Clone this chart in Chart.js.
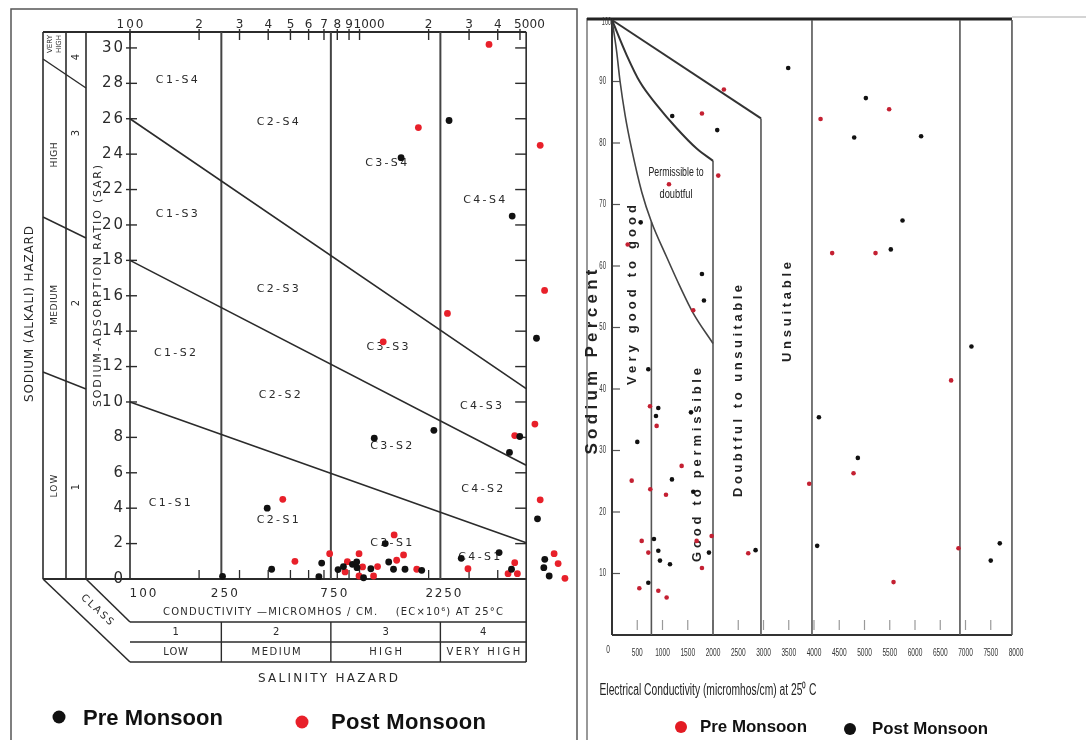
<!DOCTYPE html>
<html>
<head>
<meta charset="utf-8">
<script src="https://cdn.jsdelivr.net/npm/chart.js@4.4.1/dist/chart.umd.min.js"></script>
<style>
  html, body { margin: 0; padding: 0; background: #fff; }
  #wrap { position: relative; width: 1086px; height: 740px; overflow: hidden; }
  #ussl { position: absolute; left: 0; top: 0; }
  #wilcox { position: absolute; left: 580px; top: 0; }
</style>
</head>
<body>
<div id="wrap">
  <canvas id="ussl" width="580" height="740"></canvas>
  <canvas id="wilcox" width="506" height="740"></canvas>
</div>
<script>
// ---------- USSL diagram (left) ----------
const usslPreEC  = [2455, 1517, 4624, 5900, 4989, 2108, 1159, 4500, 5960, 396, 414, 253, 684, 665, 806, 851, 931, 972, 975, 1041, 1120, 1294, 1340, 1406, 1578, 1866, 2774, 4055, 4592, 6412, 6350, 6701];
const usslPreSAR = [25.9, 23.8, 20.5, 13.6, 8.05, 8.4, 7.95, 7.15, 3.4, 4.0, 0.55, 0.15, 0.9, 0.13, 0.53, 0.7, 0.83, 0.96, 0.64, 0.07, 0.58, 2.0, 0.96, 0.55, 0.55, 0.49, 1.17, 1.49, 0.55, 1.11, 0.64, 0.17];
const usslPostEC  = [3665, 1804, 6124, 6400, 2415, 1268, 5807, 4743, 6124, 463, 523, 741, 885, 865, 995, 1031, 995, 1151, 1198, 1415, 1555, 1451, 1775, 2967, 4743, 4436, 4871, 7041, 7331, 7850];
const usslPostSAR = [30.2, 25.5, 24.5, 16.3, 15.0, 13.4, 8.75, 8.1, 4.47, 4.5, 1.0, 1.43, 0.98, 0.4, 1.43, 0.68, 0.17, 0.17, 0.7, 2.49, 1.36, 1.06, 0.55, 0.58, 0.92, 0.3, 0.3, 1.43, 0.87, 0.04];

const salinityBounds = [250, 750, 2250];
const usslRightEC = 5320;   // right edge of the printed diagram
const sodiumLineEC = [100, 5320];
const s4LineSAR = [26, 10.75];
const s3LineSAR = [18, 6.43];
const s2LineSAR = [10, 2.05];

const usslTopTicks  = [100, 200, 300, 400, 500, 600, 700, 800, 900, 1000, 2000, 3000, 4000, 5000];
const usslTopLabels = ['100', '2', '3', '4', '5', '6', '7', '8', '9', '1000', '2', '3', '4', '5000'];
const usslMinorTicks = [200, 300, 400, 500, 600, 700, 800, 900, 1000, 2000, 3000, 4000];
const usslBottomLabels = [100, 250, 750, 2250];
const sarTicks = [0, 2, 4, 6, 8, 10, 12, 14, 16, 18, 20, 22, 24, 26, 28, 30];
const salinityClasses = ['1', '2', '3', '4'];
const salinityNames = ['LOW', 'MEDIUM', 'HIGH', 'VERY HIGH'];

const regionLabels = [
  ['C1-S4', 160, 28.2], ['C2-S4', 440, 25.8], ['C1-S3', 160, 20.6], ['C2-S3', 440, 16.4],
  ['C1-S2', 157, 12.75], ['C2-S2', 449, 10.4], ['C1-S1', 149, 4.3], ['C2-S1', 440, 3.3],
  ['C3-S4', 1306, 23.5], ['C3-S3', 1325, 13.1], ['C3-S2', 1374, 7.5], ['C3-S1', 1374, 2.05],
  ['C4-S4', 3493, 21.4], ['C4-S3', 3380, 9.75], ['C4-S2', 3426, 5.1], ['C4-S1', 3326, 1.25]
];

// ---------- Wilcox diagram (right) ----------
const wilcoxPreEC = [2216, 1781, 4130, 2104, 1128, 311, 4360, 1609, 5488, 5218, 752, 884, 1379, 390, 758, 1069, 3905, 588, 1676, 1973, 719, 1781, 2698, 541, 917, 1082, 6715, 4783, 6861, 5575];
const wilcoxPreNa = [88.7, 84.8, 83.9, 74.7, 73.3, 63.5, 62.1, 52.8, 85.5, 62.1, 37.2, 34.0, 27.5, 25.1, 23.7, 22.8, 24.6, 15.3, 15.3, 16.1, 13.4, 10.9, 13.3, 7.6, 7.2, 6.1, 41.4, 26.3, 14.1, 8.6];
const wilcoxPostEC = [3489, 1193, 2084, 568, 1781, 1821, 5027, 4796, 6121, 5753, 5521, 7118, 719, 917, 871, 501, 1564, 1187, 1609, 831, 917, 950, 1148, 1920, 2843, 719, 4097, 4063, 4868, 7679, 7500];
const wilcoxPostNa = [92.2, 84.4, 82.1, 67.1, 58.7, 54.4, 87.3, 80.9, 81.1, 67.4, 62.7, 46.9, 43.2, 36.9, 35.6, 31.4, 36.2, 25.3, 23.3, 15.6, 13.7, 12.1, 11.5, 13.4, 13.8, 8.5, 35.4, 14.5, 28.8, 14.9, 12.1];

const outerEC = [0, 2950];
const outerNa = [100, 84];
const middleEC = [0, 290, 554, 884, 1280, 1676, 2000];
const middleNa = [100, 94.3, 89.9, 86.2, 82.4, 79.1, 77.1];
const innerEC = [0, 90, 160, 260, 390, 590, 780, 1080, 1350, 1610, 2000];
const innerNa = [100, 95, 90, 84.5, 79, 72, 67.2, 61.5, 56.6, 52.3, 47.4];
const wilcoxDividers = [[780, 67.2], [2000, 77.1], [2950, 84], [3960, 100], [6890, 100], [7920, 100]];

const wilcoxYTicks = [10, 20, 30, 40, 50, 60, 70, 80, 90];
const wilcoxXTicks = [500, 1000, 1500, 2000, 2500, 3000, 3500, 4000, 4500, 5000, 5500, 6000, 6500, 7000, 7500, 8000];

const pts = (xs, ys) => xs.map((x, i) => ({ x: x, y: ys[i] }));

function line(ctx, p, color, w) {
  ctx.save();
  ctx.strokeStyle = color;
  ctx.lineWidth = w;
  ctx.beginPath();
  ctx.moveTo(p[0][0], p[0][1]);
  for (let i = 1; i < p.length; i++) ctx.lineTo(p[i][0], p[i][1]);
  ctx.stroke();
  ctx.restore();
}

// text helper: fits text into a width either by spacing letters or squeezing
function label(ctx, s, x, y, o) {
  ctx.save();
  ctx.font = o.font;
  ctx.fillStyle = o.color || '#2a2a2a';
  ctx.textBaseline = 'middle';
  ctx.textAlign = 'left';
  ctx.letterSpacing = '0px';
  ctx.translate(x, y);
  if (o.rot) ctx.rotate(o.rot);
  const w = ctx.measureText(s).width;
  let sx = o.sx || 1, ls = 0;
  let total = w * sx;
  if (o.width) {
    if (w > o.width || o.squeeze) sx = o.width / w;
    else if (s.length > 1) ls = (o.width - w) / (s.length - 1);
    total = o.width;
  }
  ctx.letterSpacing = ls + 'px';
  const x0 = o.align === 'left' ? 0 : o.align === 'right' ? -total : -total / 2;
  ctx.scale(sx, 1);
  ctx.fillText(s, x0 / sx, 0);
  ctx.restore();
}

function dot(ctx, x, y, r, color) {
  ctx.save();
  ctx.fillStyle = color;
  ctx.beginPath();
  ctx.arc(x, y, r, 0, Math.PI * 2);
  ctx.fill();
  ctx.restore();
}

const lineSet = (data, color, width, extra) => Object.assign({
  data: data, showLine: true, borderColor: color, borderWidth: width,
  pointRadius: 0, clip: false
}, extra || {});

const ROT = -Math.PI / 2;
const oldFont = 'DejaVu Sans';

// Decorations of the USSL picture
const usslDecor = {
  id: 'usslDecor',
  beforeDatasetsDraw(chart) {
    const ctx = chart.ctx;
    const X = v => chart.scales.x.getPixelForValue(v);
    const Y = v => chart.scales.y.getPixelForValue(v);
    const L = X(100), R = X(usslRightEC), T = chart.chartArea.top, B = Y(0);
    const ink = '#2b2b2b';

    line(ctx, [[11, 740], [11, 9], [577, 9], [577, 740]], '#555', 1.5);

    line(ctx, [[43, T], [R, T]], ink, 2);
    line(ctx, [[43, B], [R, B]], ink, 2);
    [43, 66, 86].forEach(x => line(ctx, [[x, T], [x, B]], ink, 1.6));
    line(ctx, [[L, T], [L, B]], ink, 1.6);
    line(ctx, [[R, T], [R, 662]], ink, 1.6);
    line(ctx, [[43, 59], [86, 88]], ink, 1.4);
    line(ctx, [[43, 217], [86, 238]], ink, 1.4);
    line(ctx, [[43, 372], [86, 389]], ink, 1.4);
    line(ctx, [[43, B], [L, 662]], ink, 1.6);
    line(ctx, [[86, B], [L, 622]], ink, 1.6);
    [622, 642, 662].forEach(y => line(ctx, [[L, y], [R, y]], ink, 1.4));
    salinityBounds.forEach(v => line(ctx, [[X(v), 622], [X(v), 662]], ink, 1.4));

    // top log axis
    usslTopTicks.forEach((v, i) => {
      line(ctx, [[X(v), T - 3], [X(v), T + 8]], ink, 1.4);
      const s = usslTopLabels[i];
      if (s.length === 4) label(ctx, s, X(v) - 6, 25, { font: '12px ' + oldFont, width: 31, align: 'left' });
      else label(ctx, s, X(v), 25, { font: '12px ' + oldFont, width: s.length > 1 ? 27 : 0 });
    });
    // bottom minor ticks
    usslMinorTicks.forEach(v => line(ctx, [[X(v), B - 9], [X(v), B]], ink, 1.3));
    usslBottomLabels.forEach(v => {
      const s = String(v);
      label(ctx, s, X(v) + (v === 100 ? 13 : 3), 594, { font: '12px ' + oldFont, width: s.length * 9 });
    });
    // SAR axis
    sarTicks.forEach(v => {
      label(ctx, String(v), 123, Y(v), { font: '15px ' + oldFont, align: 'right', width: v >= 10 ? 21 : 0 });
      if (v > 0) {
        line(ctx, [[126, Y(v)], [137, Y(v)]], ink, 1.4);
        line(ctx, [[R - 11, Y(v)], [R, Y(v)]], ink, 1.4);
      }
    });

    label(ctx, 'CONDUCTIVITY \u2014MICROMHOS / CM.    (EC\u00d710\u2076) AT 25\u00b0C', 333, 612, { font: '10px ' + oldFont, width: 340 });
    const cols = [100].concat(salinityBounds, [usslRightEC]);
    for (let i = 0; i < 4; i++) {
      const cx = (X(cols[i]) + X(cols[i + 1])) / 2;
      label(ctx, salinityClasses[i], cx, 632, { font: '10px ' + oldFont });
      label(ctx, salinityNames[i], cx, 652, { font: '10px ' + oldFont, width: salinityNames[i].length * 8.2 });
    }
    label(ctx, 'SALINITY HAZARD', 328, 679, { font: '12px ' + oldFont, width: 140 });
    label(ctx, 'CLASS', 97, 610, { font: '10px ' + oldFont, width: 40, rot: Math.atan2(81, 87) });

    label(ctx, 'SODIUM (ALKALI) HAZARD', 30, 314, { font: '12px ' + oldFont, width: 176, rot: ROT });
    label(ctx, 'SODIUM-ADSORPTION RATIO (SAR)', 98, 286, { font: '11px ' + oldFont, width: 242, rot: ROT });
    label(ctx, 'VERY', 50, 44, { font: '7px ' + oldFont, rot: ROT });
    label(ctx, 'HIGH', 59, 44, { font: '7px ' + oldFont, rot: ROT });
    label(ctx, 'HIGH', 55, 155, { font: '9px ' + oldFont, width: 25, rot: ROT });
    label(ctx, 'MEDIUM', 55, 305, { font: '9px ' + oldFont, width: 40, rot: ROT });
    label(ctx, 'LOW', 55, 486, { font: '9px ' + oldFont, width: 23, rot: ROT });
    label(ctx, '4', 76, 57, { font: '10px ' + oldFont, rot: ROT });
    label(ctx, '3', 76, 133, { font: '10px ' + oldFont, rot: ROT });
    label(ctx, '2', 76, 303, { font: '10px ' + oldFont, rot: ROT });
    label(ctx, '1', 76, 487, { font: '10px ' + oldFont, rot: ROT });

    regionLabels.forEach(r => label(ctx, r[0], X(r[1]), Y(r[2]), { font: '11px ' + oldFont, width: 42 }));

    dot(ctx, 59, 717, 6.5, '#111');
    label(ctx, 'Pre Monsoon', 83, 719, { font: 'bold 22px "Liberation Sans", Arial', width: 140, align: 'left', color: '#111' });
    dot(ctx, 302, 722, 6.5, '#e8202a');
    label(ctx, 'Post Monsoon', 331, 723, { font: 'bold 22px "Liberation Sans", Arial', width: 155, align: 'left', color: '#111' });
  }
};

new Chart(document.getElementById('ussl'), {
  type: 'scatter',
  data: {
    datasets: [
      { label: 'Pre Monsoon', data: pts(usslPreEC, usslPreSAR), backgroundColor: '#111', borderWidth: 0, pointRadius: 3.4, clip: false },
      { label: 'Post Monsoon', data: pts(usslPostEC, usslPostSAR), backgroundColor: '#e8202a', borderWidth: 0, pointRadius: 3.4, clip: false },
      lineSet(pts(sodiumLineEC, s4LineSAR), '#2b2b2b', 1.6),
      lineSet(pts(sodiumLineEC, s3LineSAR), '#2b2b2b', 1.6),
      lineSet(pts(sodiumLineEC, s2LineSAR), '#2b2b2b', 1.6),
      ...salinityBounds.map(v => lineSet([{ x: v, y: 0 }, { x: v, y: 30.9 }], '#444', 2))
    ]
  },
  options: {
    responsive: false,
    animation: false,
    events: [],
    // chart area runs out to the frame so the dots right of the diagram still draw
    layout: { padding: { left: 130, right: 3, top: 32, bottom: 161 } },
    plugins: { legend: { display: false }, tooltip: { enabled: false } },
    scales: {
      x: { type: 'logarithmic', min: 100, max: 8770, display: false },
      y: { type: 'linear', min: 0, max: 30.9, display: false }
    }
  },
  plugins: [usslDecor]
});

// Decorations of the Wilcox picture
const wilcoxDecor = {
  id: 'wilcoxDecor',
  beforeDatasetsDraw(chart) {
    const ctx = chart.ctx;
    const X = v => chart.scales.x.getPixelForValue(v);
    const Y = v => chart.scales.y.getPixelForValue(v);
    const L = X(0), B = Y(0), T = Y(100), R = X(7920);
    const narrow = '"Liberation Sans", Arial';

    line(ctx, [[7, 18], [7, 740]], '#777', 1.5);
    line(ctx, [[R, 17], [506, 17]], '#aaa', 1.2);
    line(ctx, [[7, T - 1], [R, T - 1]], '#222', 3);
    line(ctx, [[L, T], [L, B]], '#333', 2);
    line(ctx, [[L, B], [R, B]], '#333', 2);

    wilcoxYTicks.forEach(v => {
      line(ctx, [[L + 1, Y(v)], [L + 8, Y(v)]], '#555', 1.2);
      label(ctx, String(v), L - 6, Y(v), { font: '10px ' + narrow, sx: 0.6, align: 'right', color: '#333' });
    });
    label(ctx, '100', L - 1, T + 2, { font: '10px ' + narrow, sx: 0.55, align: 'right', color: '#333' });
    wilcoxXTicks.forEach(v => {
      if (v < 8000) line(ctx, [[X(v), B - 15], [X(v), B - 5]], '#999', 1.2);
      label(ctx, String(v), X(v), 653, { font: '11px ' + narrow, sx: 0.6, color: '#333' });
    });
    label(ctx, '0', L - 4, 650, { font: '11px ' + narrow, sx: 0.6, color: '#333' });

    label(ctx, 'Sodium Percent', 12, 362, { font: 'bold 17px ' + narrow, width: 185, rot: ROT, color: '#222' });
    label(ctx, 'Very good to good', 52, 295, { font: 'bold 13px ' + narrow, width: 180, rot: ROT, color: '#222' });
    label(ctx, 'Good to permissible', 117, 465, { font: 'bold 13px ' + narrow, width: 194, rot: ROT, color: '#222' });
    label(ctx, 'Doubtful to unsuitable', 158, 391, { font: 'bold 13px ' + narrow, width: 212, rot: ROT, color: '#222' });
    label(ctx, 'Unsuitable', 207, 312, { font: 'bold 13px ' + narrow, width: 100, rot: ROT, color: '#222' });
    label(ctx, 'Permissible to', 96, 172, { font: '13px ' + narrow, width: 55, squeeze: true, color: '#222' });
    label(ctx, 'doubtful', 96, 194, { font: '13px ' + narrow, width: 33, squeeze: true, color: '#222' });
    label(ctx, 'Electrical Conductivity (micromhos/cm) at 25\u2070 C', 128, 691, { font: '16px ' + narrow, width: 217, squeeze: true, color: '#222' });

    dot(ctx, 101, 727, 6, '#e31b23');
    label(ctx, 'Pre Monsoon', 120, 727, { font: 'bold 17px ' + narrow, width: 107, align: 'left', color: '#111' });
    dot(ctx, 270, 729, 6, '#111');
    label(ctx, 'Post Monsoon', 292, 729, { font: 'bold 17px ' + narrow, width: 116, align: 'left', color: '#111' });
  }
};

new Chart(document.getElementById('wilcox'), {
  type: 'scatter',
  data: {
    datasets: [
      { label: 'Pre Monsoon', data: pts(wilcoxPreEC, wilcoxPreNa), backgroundColor: '#c42032', borderWidth: 0, pointRadius: 2.3, clip: false },
      { label: 'Post Monsoon', data: pts(wilcoxPostEC, wilcoxPostNa), backgroundColor: '#111', borderWidth: 0, pointRadius: 2.3, clip: false },
      lineSet(pts(outerEC, outerNa), '#333', 2),
      lineSet(pts(middleEC, middleNa), '#333', 2, { cubicInterpolationMode: 'monotone' }),
      lineSet(pts(innerEC, innerNa), '#444', 1.6, { cubicInterpolationMode: 'monotone' }),
      ...wilcoxDividers.map(d => lineSet([{ x: d[0], y: 0 }, { x: d[0], y: d[1] }], '#555', 1.6))
    ]
  },
  options: {
    responsive: false,
    animation: false,
    events: [],
    layout: { padding: { left: 32, right: 70, top: 20, bottom: 105 } },
    plugins: { legend: { display: false }, tooltip: { enabled: false } },
    scales: {
      x: { type: 'linear', min: 0, max: 8000, display: false },
      y: { type: 'linear', min: 0, max: 100, display: false }
    }
  },
  plugins: [wilcoxDecor]
});
</script>
</body>
</html>
